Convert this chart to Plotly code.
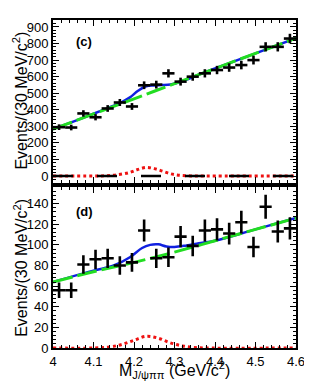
import plotly.graph_objects as go

# ---- data ----
bin_centers = [4.015, 4.045, 4.075, 4.105, 4.135, 4.165, 4.195, 4.225, 4.255, 4.285,
               4.315, 4.345, 4.375, 4.405, 4.435, 4.465, 4.495, 4.525, 4.555, 4.585]
bin_halfwidth = 0.015

top_counts = [295, 293, 378, 355, 408, 444, 420, 548, 552, 620,
              570, 600, 620, 640, 655, 670, 700, 780, 780, 830]
bot_counts = [56, 56, 81, 86, 87, 80, 83, 114, 87, 88,
              108, 99, 114, 115, 111, 122, 98, 137, 113, 116]

# fit curves (panel c)
top_bg_x = [4.00, 4.10, 4.20, 4.30, 4.40, 4.50, 4.60]
top_bg_y = [283, 375, 466, 558, 649, 741, 832]
top_tot_x = [4.00, 4.05, 4.10, 4.15, 4.17, 4.19, 4.21, 4.23, 4.25, 4.27, 4.29, 4.31, 4.33, 4.35, 4.40, 4.50, 4.60]
top_tot_y = [283, 329, 376, 425, 447, 475, 515, 542, 547, 549, 553, 565, 582, 603, 649, 741, 832]
top_sig_x = [4.00, 4.10, 4.13, 4.16, 4.19, 4.21, 4.23, 4.25, 4.27, 4.29, 4.31, 4.34, 4.37, 4.60]
top_sig_y = [0, 0, 2, 8, 22, 40, 52, 45, 30, 14, 5, 1, 0, 0]
top_zero_x = [4.00, 4.60]
top_zero_y = [0, 0]

# fit curves (panel d)
bot_bg_x = [4.00, 4.10, 4.20, 4.30, 4.40, 4.50, 4.60]
bot_bg_y = [64, 74, 83, 93, 104, 115, 126]
bot_tot_x = [4.00, 4.10, 4.15, 4.19, 4.22, 4.24, 4.26, 4.28, 4.30, 4.33, 4.36, 4.40, 4.50, 4.60]
bot_tot_y = [64, 75, 80, 88, 97, 100, 100.5, 98.5, 98, 99.5, 101.5, 104, 115, 126]
bot_sig_x = [4.00, 4.10, 4.14, 4.17, 4.20, 4.23, 4.26, 4.29, 4.32, 4.35, 4.38, 4.60]
bot_sig_y = [0, 0, 1, 3.5, 7.5, 11.3, 9.5, 5, 2, 0.5, 0, 0]

x_ticks = [4.0, 4.1, 4.2, 4.3, 4.4, 4.5, 4.6]
x_ticklabels = ["4", "4.1", "4.2", "4.3", "4.4", "4.5", "4.6"]

FONT = "Liberation Sans, Arial, sans-serif"

fig = go.Figure()


def add_panel(xa, ya, counts, bg_x, bg_y, tot_x, tot_y, sig_x, sig_y, zero=None):
    fig.add_trace(go.Scatter(x=sig_x, y=sig_y, mode="lines", xaxis=xa, yaxis=ya,
                             line=dict(color="#ee1111", width=3, dash="3px,3px", shape="spline"),
                             showlegend=False))
    if zero is not None:
        fig.add_trace(go.Scatter(x=zero[0], y=zero[1], mode="lines", xaxis=xa, yaxis=ya,
                                 line=dict(color="black", width=2.5, dash="20px,24px"),
                                 showlegend=False, hoverinfo="skip"))
    fig.add_trace(go.Scatter(x=tot_x, y=tot_y, mode="lines", xaxis=xa, yaxis=ya,
                             line=dict(color="#1020e0", width=2.5, shape="spline"),
                             showlegend=False))
    fig.add_trace(go.Scatter(x=bg_x, y=bg_y, mode="lines", xaxis=xa, yaxis=ya,
                             line=dict(color="#22dd22", width=3, dash="20px,5px", shape="spline"),
                             showlegend=False))
    errs = [c ** 0.5 for c in counts]
    fig.add_trace(go.Scatter(x=bin_centers, y=counts, mode="markers", xaxis=xa, yaxis=ya,
                             marker=dict(size=1, color="black"),
                             error_x=dict(type="constant", value=bin_halfwidth, thickness=2.6,
                                          width=0, color="black"),
                             error_y=dict(type="data", array=errs, thickness=2.6,
                                          width=0, color="black"),
                             showlegend=False))


add_panel("x", "y", top_counts, top_bg_x, top_bg_y, top_tot_x, top_tot_y,
          top_sig_x, top_sig_y, zero=(top_zero_x, top_zero_y))
add_panel("x2", "y2", bot_counts, bot_bg_x, bot_bg_y, bot_tot_x, bot_tot_y,
          bot_sig_x, bot_sig_y)

axis_common = dict(showgrid=False, zeroline=False, showline=True, linecolor="black",
                   linewidth=2, mirror="allticks", ticks="inside", tickcolor="black",
                   tickwidth=1, ticklen=6,
                   tickfont=dict(family=FONT, size=13, color="black"))

top_dom = [0.503, 1.0]
bot_dom = [0.0, 0.492]

fig.update_layout(
    width=312, height=382,
    margin=dict(l=45, r=24, t=10, b=42),
    paper_bgcolor="white", plot_bgcolor="white",
    xaxis=dict(axis_common, range=[4.0, 4.6], domain=[0, 1], anchor="y",
               tickvals=x_ticks, showticklabels=False,
               minor=dict(dtick=0.02, ticks="inside", ticklen=3, tickcolor="black")),
    yaxis=dict(axis_common, range=[-42, 942], domain=top_dom, anchor="x",
               dtick=100, tick0=0,
               minor=dict(dtick=20, ticks="inside", ticklen=3, tickcolor="black")),
    xaxis2=dict(axis_common, range=[4.0, 4.6], domain=[0, 1], anchor="y2",
                tickvals=x_ticks, ticktext=x_ticklabels,
                minor=dict(dtick=0.02, ticks="inside", ticklen=3, tickcolor="black")),
    yaxis2=dict(axis_common, range=[0, 156.5], domain=bot_dom, anchor="x2",
                dtick=20, tick0=0,
                minor=dict(dtick=4, ticks="inside", ticklen=3, tickcolor="black")),
)

ytitle = "Events/(30 MeV/c<sup>2</sup>)"
fig.add_annotation(text=ytitle, xref="paper", yref="paper", x=-0.135, y=0.755,
                   xanchor="center", yanchor="middle", textangle=-90, showarrow=False,
                   font=dict(family=FONT, size=16, color="black"))
fig.add_annotation(text=ytitle, xref="paper", yref="paper", x=-0.135, y=0.245,
                   xanchor="center", yanchor="middle", textangle=-90, showarrow=False,
                   font=dict(family=FONT, size=16, color="black"))
fig.add_annotation(text="M<sub>J/ψππ</sub> (GeV/c<sup>2</sup>)", xref="paper", yref="paper",
                   x=0.5, y=-0.066, xanchor="center", yanchor="middle", showarrow=False,
                   font=dict(family=FONT, size=16, color="black"))
fig.add_annotation(text="<b>(c)</b>", xref="paper", yref="paper", x=0.088, y=0.935,
                   xanchor="left", yanchor="middle", showarrow=False,
                   font=dict(family=FONT, size=13, color="black"))
fig.add_annotation(text="<b>(d)</b>", xref="paper", yref="paper", x=0.088, y=0.417,
                   xanchor="left", yanchor="middle", showarrow=False,
                   font=dict(family=FONT, size=13, color="black"))

fig.write_html("out.html")
